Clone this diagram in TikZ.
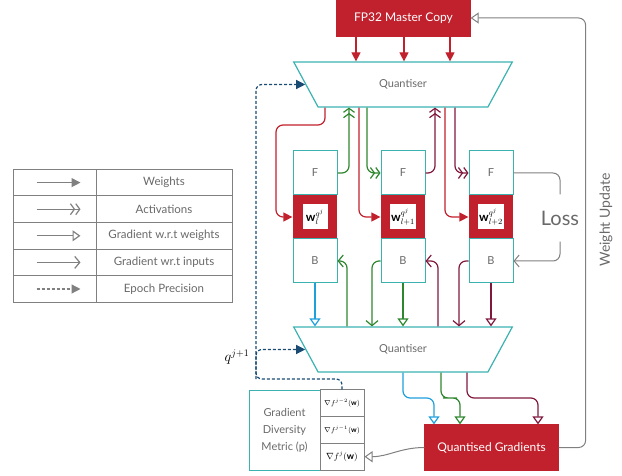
\documentclass[tikz,border=0pt]{standalone}
\usepackage{fontspec}
\setmainfont{Lato}
\usetikzlibrary{arrows.meta,shapes.geometric}
\definecolor{qteal}{RGB}{59,178,176}
\definecolor{qred}{RGB}{193,33,45}
\definecolor{qgreen}{RGB}{46,135,46}
\definecolor{qmaroon}{RGB}{128,24,62}
\definecolor{qblue}{RGB}{30,160,220}
\definecolor{qnavy}{RGB}{25,75,115}
\definecolor{qgray}{RGB}{128,128,128}
\definecolor{qtext}{RGB}{105,105,105}

\begin{document}
\begin{tikzpicture}[x=1pt,y=-1pt,line width=1.2pt,
    wt/.style={-{Triangle[length=9pt,width=9pt]}},
    act/.style={-{Straight Barb[length=4pt,width=11pt]Straight Barb[length=4pt,width=11pt]}},
    gw/.style={-{Triangle[open,length=8pt,width=11pt]}},
    gi/.style={-{Straight Barb[length=5pt,width=12pt]}},
    ep/.style={dash pattern=on 3pt off 2pt,-{Triangle[length=9pt,width=9pt]}},
    blk/.style={draw=qteal,line width=1pt,minimum width=44pt,minimum height=44pt,text=qtext,font=\fontsize{11}{12}\selectfont},
    quant/.style={draw=qteal,line width=1.2pt,trapezium,trapezium angle=64.5,shape border rotate=180,
        trapezium stretches=true,minimum width=220pt,minimum height=45pt,text=qtext,font=\fontsize{11}{12}\selectfont},
    redbox/.style={fill=qred,draw=qred,text=white,minimum width=133pt,font=\fontsize{12}{14}\selectfont},
    cell/.style={draw=qgray,line width=1pt,minimum width=44pt,minimum height=26.7pt,inner sep=0pt}]
\useasboundingbox (0,0) rectangle (622,476);
\def\xs{88}
\def\xo{227}

% master copy and quantisers
\node[redbox,minimum height=36pt] (fp) at (403.5,18) {FP32 Master Copy};
\node[quant] (qtop) at (403,84.5) {Quantiser};
\node[quant] (qbot) at (403,349.5) {Quantiser};
\node[redbox,minimum height=45pt] (qg) at (491.5,447.5) {Quantised Gradients};
\foreach \x in {356,404,450}
    \draw[wt,qred] (fp.south -| \x,0) -- (qtop.north -| \x,0);

% layers
\foreach \i/\l in {1/l, 2/{l+1}, 3/{l+2}} {
    \node[blk] (F\i) at (\i*\xs+\xo,173) {F};
    \node[fill=qred,minimum width=44pt,minimum height=44pt] (W\i) at (\i*\xs+\xo,217) {};
    \node[fill=white,inner sep=1pt,minimum width=25pt,minimum height=25pt,font=\large] (L\i) at (W\i) {$\mathbf{w}_{\l}^{q^j}$};
    \node[blk] (B\i) at (\i*\xs+\xo,261) {B};
}

% forward pass
\draw[wt,qred,rounded corners=7pt] (qtop.south -| 325,0) |- (276,125) |- (W1.west);
\draw[wt,qred,rounded corners=7pt] (qtop.south -| 359,0) |- (W2.west);
\draw[wt,qred,rounded corners=7pt] (qtop.south -| 445,0) |- (W3.west);
\draw[act,qgreen,rounded corners=7pt] (F1.east) -| (qtop.south -| 349,0);
\draw[act,qgreen,rounded corners=7pt] (qtop.south -| 367,0) |- (F2.west);
\draw[act,qmaroon,rounded corners=7pt] (F2.east) -| (qtop.south -| 435,0);
\draw[act,qmaroon,rounded corners=7pt] (qtop.south -| 455,0) |- (F3.west);

% loss
\node[text=qtext,font=\fontsize{20}{22}\selectfont,minimum height=46pt,inner sep=0pt] (loss) at (560,218) {Loss};
\draw[qgray,line width=1pt,rounded corners=7pt] (F3.east) -| (loss.north);
\draw[gi,qgray,line width=1pt,rounded corners=7pt] (loss.south) |- (B3.east);

% backward pass
\draw[gw,qblue] (B1.south) -- (qbot.north -| B1.south);
\draw[gi,qgreen,rounded corners=7pt] (qbot.north -| 347,0) |- (B1.east);
\draw[gi,qgreen,rounded corners=7pt] (B2.west) -| (qbot.north -| 372,0);
\draw[gw,qgreen] (B2.south) -- (qbot.north -| B2.south);
\draw[gi,qmaroon,rounded corners=7pt] (qbot.north -| 438,0) |- (B2.east);
\draw[gi,qmaroon,rounded corners=7pt] (B3.west) -| (qbot.north -| 459,0);
\draw[gw,qmaroon] (B3.south) -- (qbot.north -| B3.south);

% quantised gradients
\draw[gw,qblue,rounded corners=7pt] (qbot.south -| 403,0) |- (420,398) -| (qg.north -| 434,0);
\draw[gw,qgreen,rounded corners=7pt] (qbot.south -| 441,0) |- (450,398) -| (qg.north -| 460,0);
\draw[gw,qmaroon,rounded corners=7pt] (qbot.south -| 467,0) |- (500,398) -| (qg.north -| 538,0);
\draw[gw,qgray,line width=1pt,rounded corners=7pt] (qg.east) -- ++(27,0) |- (fp.east);
\node[rotate=90,text=qtext,font=\fontsize{14}{16}\selectfont] (wu) at (606,220) {Weight Update};

% diversity metric
\node[draw=qteal,line width=1pt,minimum width=71pt,minimum height=80pt,text=qtext,align=center,
    font=\fontsize{11}{17}\selectfont] (gdm) at (284.5,430) {Gradient\\Diversity\\Metric (p)};
\node[cell,font=\scriptsize] (c1) at (342,403.3) {$\nabla f^{j-2}(\mathbf{w})$};
\node[cell,font=\scriptsize] (c2) at (342,430) {$\nabla f^{j-1}(\mathbf{w})$};
\node[cell,font=\small] (c3) at (342,456.7) {$\nabla f^{j}(\mathbf{w})$};
\draw[gw,qgray,line width=1pt] (qg.west) to[out=180,in=0] (c3.east);

% epoch precision
\coordinate (dj) at (256,379);
\draw[ep,qnavy,rounded corners=6pt] (c1.north) |- (dj) |- (qbot.west);
\draw[ep,qnavy,rounded corners=6pt] (dj) |- (qtop.west);
\node[font=\Large] (qn) at (237,357) {$q^{j+1}$};

% legend
\foreach \t/\s [count=\r] in {Weights/wt, Activations/act, Gradient w.r.t weights/gw, Gradient wr.t inputs/gi, Epoch Precision/ep} {
    \node[draw=qgray,line width=1pt,minimum width=83pt,minimum height=26.6pt] (lk\r) at (54.5,156+\r*26.6) {};
    \node[draw=qgray,line width=1pt,minimum width=136pt,minimum height=26.6pt,text=qtext,
        font=\fontsize{11.5}{13}\selectfont] (lt\r) at (164,156+\r*26.6) {\t};
    \draw[\s,qgray] ([xshift=24pt]lk\r.west) -- ([xshift=-16pt]lk\r.east);
}
\end{tikzpicture}
\end{document}
